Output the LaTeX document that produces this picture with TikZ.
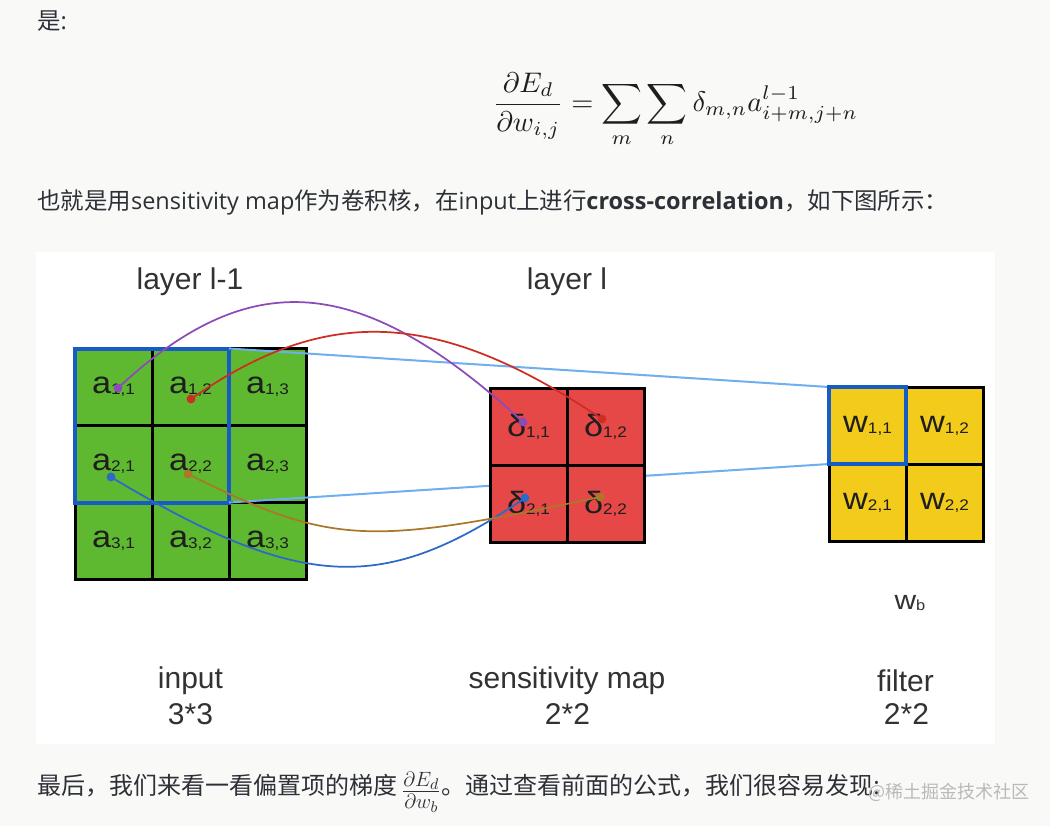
\documentclass[tikz,border=0pt]{standalone}
\usepackage{fontspec}
\usepackage{graphicx}
\newfontfamily\cjk{Noto Sans CJK SC}
\newfontfamily\lat{Open Sans}
\newfontfamily\hel{Liberation Sans}
\definecolor{pagebg}{RGB}{249,250,247}
\definecolor{bodytext}{RGB}{45,48,55}
\definecolor{cgreen}{RGB}{94,184,48}
\definecolor{cred}{RGB}{230,72,72}
\definecolor{cyellow}{RGB}{242,203,27}
\definecolor{hlblue}{RGB}{22,92,196}
\definecolor{ltblue}{RGB}{110,175,240}
\definecolor{cpurple}{RGB}{140,75,185}
\definecolor{credc}{RGB}{205,45,35}
\definecolor{cbluec}{RGB}{45,105,200}
\definecolor{cbrown}{RGB}{170,120,40}
\definecolor{labeltext}{RGB}{50,50,50}
\definecolor{celltext}{RGB}{30,30,30}
\definecolor{wmark}{RGB}{185,185,185}
\newcommand{\cellt}[2]{\scalebox{1.12}[1]{#1\raisebox{-0.8pt}{\fontsize{11.5}{13}\selectfont #2}}}
\tikzset{
  cellbase/.style={draw=black, line width=2.25pt, minimum width=57.75pt, minimum height=57.75pt, inner sep=0pt, outer sep=0pt, text=celltext, font=\hel\fontsize{23}{26}\selectfont},
  acell/.style={cellbase, fill=cgreen},
  dcell/.style={cellbase, fill=cred},
  wcell/.style={cellbase, fill=cyellow},
  hlbox/.style={draw=hlblue, line width=3pt},
  ltline/.style={draw=ltblue, line width=1.5pt},
  curve/.style={line width=1.3pt},
  biglabel/.style={text=labeltext, font=\hel\fontsize{22.5}{26}\selectfont, inner sep=0pt},
  bodyline/.style={text=bodytext, font=\cjk\fontsize{17.6}{20}\selectfont, inner sep=0pt, anchor=west}
}
\begin{document}
\begin{tikzpicture}[x=0.75pt, y=-0.75pt]
\useasboundingbox (0,0) rectangle (1050,826);
\fill[pagebg] (0,0) rectangle (1050,826);
\fill[white] (36,252) rectangle (995,744);

% body text
\node[bodyline] (t1) at (37,21) {是\lat :};
\node[text=celltext] (eq) at (675.5,110) {\resizebox{273.75pt}{!}{$\displaystyle\frac{\partial E_d}{\partial w_{i,j}}=\sum_m\sum_n\delta_{m,n}a^{l-1}_{i+m,j+n}$}};
\node[bodyline] (t2) at (37,202) {也就是用{\lat sensitivity map}作为卷积核，在{\lat input}上进行{\lat\bfseries cross-correlation}，如下图所示：};
\node[bodyline, font=\cjk\fontsize{18}{20}\selectfont] (t3) at (37,792) {最后，我们来看一看偏置项的梯度\,\raisebox{-3pt}{\resizebox{30pt}{!}{$\frac{\partial E_d}{\partial w_b}$}}。通过查看前面的公式，我们很容易发现{\lat :}};
\node[text=wmark, font=\cjk\fontsize{13.5}{16}\selectfont, inner sep=0pt, anchor=west] (wm) at (868,792) {@稀土掘金技术社区};

% input grid
\node[acell] (a11) at (113.5,387) {\cellt{a}{1,1}};
\node[acell] (a12) at (190.5,387) {\cellt{a}{1,2}};
\node[acell] (a13) at (267.5,387) {\cellt{a}{1,3}};
\node[acell] (a21) at (113.5,464) {\cellt{a}{2,1}};
\node[acell] (a22) at (190.5,464) {\cellt{a}{2,2}};
\node[acell] (a23) at (267.5,464) {\cellt{a}{2,3}};
\node[acell] (a31) at (113.5,541) {\cellt{a}{3,1}};
\node[acell] (a32) at (190.5,541) {\cellt{a}{3,2}};
\node[acell] (a33) at (267.5,541) {\cellt{a}{3,3}};
\draw[hlbox] (a11.north west) rectangle (a22.south east);

% filter
\node[wcell] (w11) at (867.5,425.5) {\cellt{w}{1,1}};
\node[wcell] (w12) at (944.5,425.5) {\cellt{w}{1,2}};
\node[wcell] (w21) at (867.5,502.5) {\cellt{w}{2,1}};
\node[wcell] (w22) at (944.5,502.5) {\cellt{w}{2,2}};

% light blue lines
\draw[ltline] (a12.north east) -- (w11.north west);
\draw[ltline] (a22.south east) -- (w11.south west);
\draw[hlbox] (w11.north west) rectangle (w11.south east);

% sensitivity map
\node[dcell] (d11) at (528.5,426.5) {\cellt{δ}{1,1}};
\node[dcell] (d12) at (605.5,426.5) {\cellt{δ}{1,2}};
\node[dcell] (d21) at (528.5,503.5) {\cellt{δ}{2,1}};
\node[dcell] (d22) at (605.5,503.5) {\cellt{δ}{2,2}};

% endpoints
\coordinate (pa11) at (118,388);
\coordinate (pa12) at (191,399);
\coordinate (pa21) at (111,477);
\coordinate (pa22) at (188,474);
\coordinate (pd11) at (523,422);
\coordinate (pd12) at (602,419);
\coordinate (pd21) at (525,498);
\coordinate (pd22) at (600,497);

\draw[curve, cpurple] (pa11) .. controls (250,265) and (360,272) .. (pd11);
\draw[curve, credc] (pa12) .. controls (328,303) and (440,310) .. (pd12);
\draw[curve, cbluec] (pa21) .. controls (304,593) and (385,593) .. (pd21);
\draw[curve, cbrown] (pa22) .. controls (332,546) and (367,546) .. (pd22);

\fill[cpurple] (pa11) circle (3.3pt);
\fill[cpurple] (pd11) circle (3.3pt);
\fill[credc] (pa12) circle (3.3pt);
\fill[credc] (pd12) circle (3.3pt);
\fill[cbluec] (pa21) circle (3.3pt);
\fill[cbluec] (pd21) circle (3.3pt);
\fill[cbrown] (pa22) circle (3.3pt);
\fill[cbrown] (pd22) circle (3.3pt);

% labels
\node[biglabel] (l1) at (190,282) {layer l-1};
\node[biglabel] (l2) at (567,282) {layer l};
\node[biglabel] (in1) at (190.5,681) {input};
\node[biglabel] (in2) at (190.5,714) {3*3};
\node[biglabel] (sm1) at (567,681) {sensitivity map};
\node[biglabel] (sm2) at (567.5,714) {2*2};
\node[biglabel] (fl1) at (905.5,681) {filter};
\node[biglabel] (fl2) at (906.5,714) {2*2};
\node[text=labeltext, font=\hel\fontsize{20}{22}\selectfont, inner sep=0pt] (wb) at (910,603) {\scalebox{1.12}[1]{w\raisebox{-1pt}{\fontsize{11}{12}\selectfont b}}};
\end{tikzpicture}
\end{document}
